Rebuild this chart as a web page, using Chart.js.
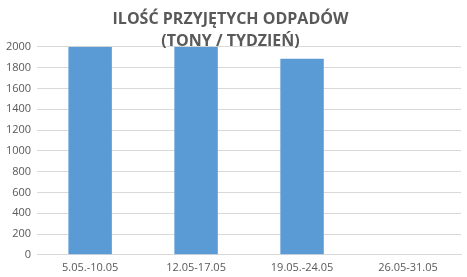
<!DOCTYPE html>
<html>
<head>
    <meta charset="utf-8">
    <title>Ilość przyjętych odpadów</title>
    <script src="https://cdn.jsdelivr.net/npm/chart.js@4/dist/chart.umd.min.js"></script>
    <style>
        * { margin: 0; padding: 0; box-sizing: border-box; }
        body { background: #fff; width: 467px; height: 277px; overflow: hidden; }
        .wrap { width: 467px; height: 277px; }
    </style>
</head>
<body>
    <div class="wrap"><canvas id="chart" width="467" height="277"></canvas></div>
    <script>
        const weeks = ['5.05.-10.05', '12.05-17.05', '19.05.-24.05', '26.05-31.05'];
        const tons = [2000, 2000, 1885, 0];
        const titleLines = ['ILOŚĆ PRZYJĘTYCH ODPADÓW', '(TONY / TYDZIEŃ)'];

        const grey = '#595959';

        new Chart(document.getElementById('chart'), {
            type: 'bar',
            data: {
                labels: weeks,
                datasets: [{
                    data: tons,
                    backgroundColor: '#5b9bd5',
                    categoryPercentage: 0.82,
                    barPercentage: 0.5
                }]
            },
            options: {
                responsive: false,
                animation: false,
                layout: { padding: { left: 0, right: 6, top: 0, bottom: -3 } },
                plugins: {
                    legend: { display: false },
                    tooltip: { enabled: false },
                    title: {
                        display: true,
                        text: titleLines,
                        color: grey,
                        font: { family: 'Open Sans', size: 16, weight: 'bold', lineHeight: 1.4 },
                        padding: { top: 8, bottom: -6 }
                    }
                },
                scales: {
                    y: {
                        min: 0,
                        max: 2000,
                        ticks: {
                            stepSize: 200,
                            color: grey,
                            font: { family: 'Open Sans', size: 11 },
                            padding: 6,
                            callback: v => String(v)
                        },
                        grid: { color: '#d9d9d9', drawTicks: false },
                        border: { display: false }
                    },
                    x: {
                        ticks: { color: grey, font: { family: 'Open Sans', size: 11 }, padding: 6 },
                        grid: { display: false, drawTicks: false },
                        border: { color: '#d9d9d9' }
                    }
                }
            }
        });
    </script>
</body>
</html>
